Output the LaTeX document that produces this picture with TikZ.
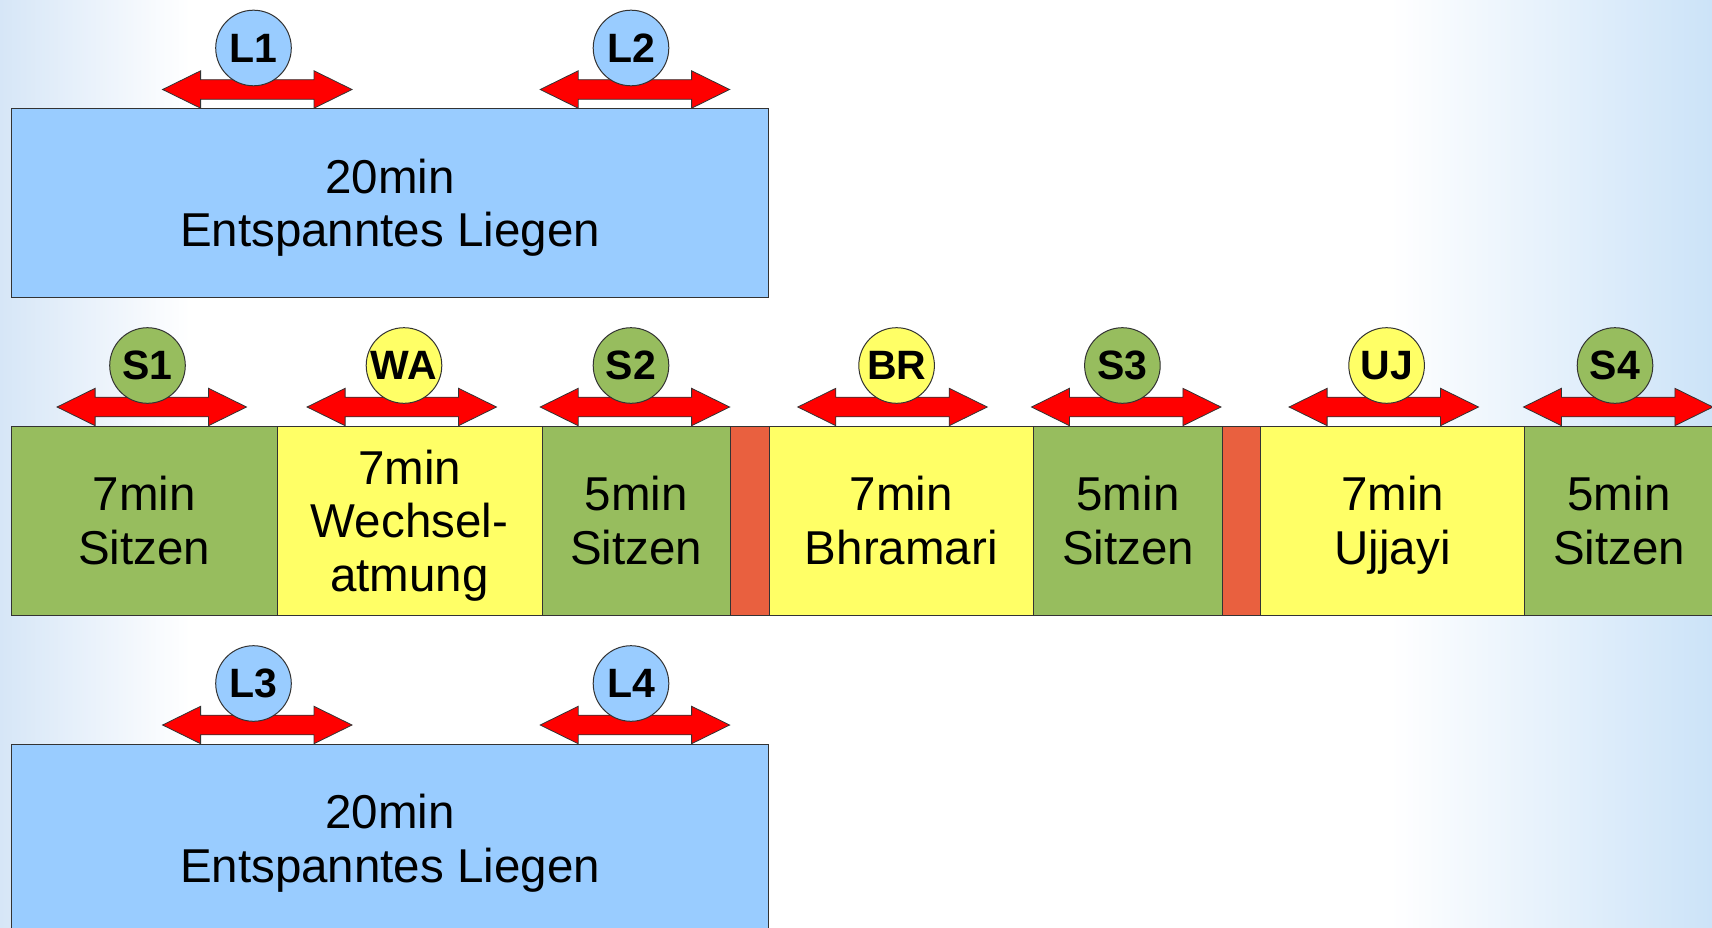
\documentclass[tikz,border=0pt]{standalone}
\usepackage{fontspec}
\setmainfont{Liberation Sans}
\definecolor{lblue}{HTML}{99CCFF}
\definecolor{sgreen}{HTML}{97BD5E}
\definecolor{syellow}{HTML}{FFFF66}
\definecolor{sred}{HTML}{E9603F}
\definecolor{arred}{HTML}{FF0000}
\definecolor{bgl}{HTML}{D6E6F7}
\definecolor{bgr}{HTML}{CCE3F8}
\definecolor{edge}{HTML}{333333}
\tikzset{
 box/.style={draw=edge, line width=1pt, inner sep=0pt, anchor=north west, align=center,
   minimum height=189pt, text depth=0pt, font=\fontsize{47.5}{53.5}\selectfont},
 badge/.style={circle, draw=edge, line width=1pt, minimum size=75.6pt, inner sep=0pt,
   font=\fontsize{41}{41}\selectfont\bfseries},
 dblarr/.pic={\path[fill=arred, draw=edge, line width=0.8pt]
   (-94.7,0) -- (-56.7,18.7) -- (-56.7,9.8) -- (56.7,9.8) -- (56.7,18.7) -- (94.7,0)
   -- (56.7,-18.7) -- (56.7,-9.8) -- (-56.7,-9.8) -- (-56.7,-18.7) -- cycle;}
}
\begin{document}
\begin{tikzpicture}[x=1pt,y=-1pt]
\useasboundingbox (0,0) rectangle (1712,928);
\clip (0,0) rectangle (1712,928);
\fill[white] (0,0) rectangle (1712,928);
\shade[left color=bgl, right color=white] (0,0) rectangle (190,928);
\shade[left color=white, right color=bgr] (1390,0) rectangle (1712,928);

% row 1
\node[box, fill=lblue, minimum width=757pt] (lie1) at (11,108) {20min\\Entspanntes Liegen};
\pic at (257.3,89.5) {dblarr};
\node[badge, fill=lblue] (L1) at (253.5,48) {L1};
\pic at (634.9,89.5) {dblarr};
\node[badge, fill=lblue] (L2) at (631,48) {L2};

% row 2
\node[box, fill=sgreen, minimum width=265.5pt] (b1) at (11,425.5) {7min\\Sitzen};
\node[box, fill=syellow, minimum width=265pt] (b2) at (276.5,425.5) {7min\\Wechsel-\\atmung};
\node[box, fill=sgreen, minimum width=188.5pt] (b3) at (541.5,425.5) {5min\\Sitzen};
\node[box, fill=sred, minimum width=38.5pt] (r1) at (730,425.5) {};
\node[box, fill=syellow, minimum width=264.5pt] (b4) at (768.5,425.5) {7min\\Bhramari};
\node[box, fill=sgreen, minimum width=189pt] (b5) at (1033,425.5) {5min\\Sitzen};
\node[box, fill=sred, minimum width=38pt] (r2) at (1222,425.5) {};
\node[box, fill=syellow, minimum width=264pt] (b6) at (1260,425.5) {7min\\Ujjayi};
\node[box, fill=sgreen, minimum width=189pt] (b7) at (1524,425.5) {5min\\Sitzen};

\pic at (151.8,407) {dblarr};
\node[badge, fill=sgreen] (S1) at (147.5,365.5) {S1};
\pic at (401.8,407) {dblarr};
\node[badge, fill=syellow] (WA) at (404,365.5) {WA};
\pic at (634.9,407) {dblarr};
\node[badge, fill=sgreen] (S2) at (631,365.5) {S2};
\pic at (892.5,407) {dblarr};
\node[badge, fill=syellow] (BR) at (896.6,365.5) {BR};
\pic at (1126.2,407) {dblarr};
\node[badge, fill=sgreen] (S3) at (1122.4,365.5) {S3};
\pic at (1383.8,407) {dblarr};
\node[badge, fill=syellow] (UJ) at (1386.6,365.5) {UJ};
\pic at (1618.2,407) {dblarr};
\node[badge, fill=sgreen] (S4) at (1615,365.5) {S4};

% row 3
\node[box, fill=lblue, minimum width=757pt] (lie2) at (11,743.5) {20min\\Entspanntes Liegen};
\pic at (257.3,725) {dblarr};
\node[badge, fill=lblue] (L3) at (253.5,683.5) {L3};
\pic at (634.9,725) {dblarr};
\node[badge, fill=lblue] (L4) at (631,683.5) {L4};
\end{tikzpicture}
\end{document}
